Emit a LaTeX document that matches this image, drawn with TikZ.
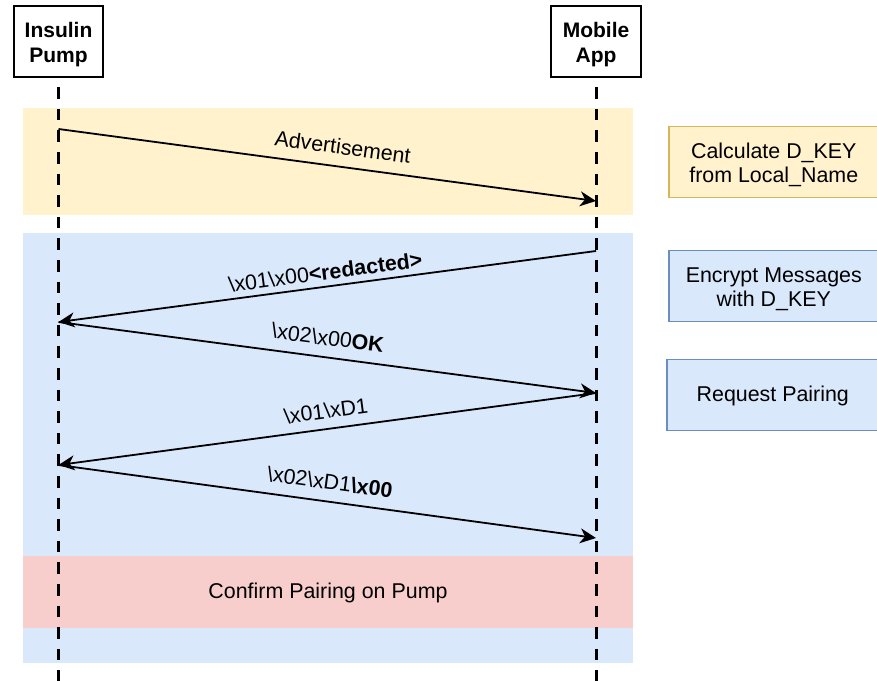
\documentclass[tikz,border=0pt]{standalone}
\usepackage{fontspec}
\setmainfont{Liberation Sans}
\usetikzlibrary{arrows.meta}
\definecolor{ylwfill}{HTML}{FFF2CC}
\definecolor{ylwline}{HTML}{D6B656}
\definecolor{bluefill}{HTML}{DAE8FC}
\definecolor{blueline}{HTML}{6C8EBF}
\definecolor{redfill}{HTML}{F8CECC}
\newcommand{\bs}{\textbackslash}
\newcommand{\topstrut}{\rule{0pt}{21.5pt}}
\begin{document}
\begin{tikzpicture}[x=1pt,y=-1pt,
  txt/.style={font=\fontsize{21.4}{24.5}\selectfont},
  actor/.style={draw=black, line width=1.8pt, fill=white, minimum width=89.5pt, minimum height=71.5pt,
    align=center, inner sep=0pt, font=\bfseries\fontsize{21}{25}\selectfont},
  band/.style={inner sep=0pt, minimum width=610pt, txt},
  sidebox/.style={line width=1.6pt, minimum width=210pt, minimum height=71pt, align=center, inner sep=0pt, txt, anchor=west},
  lifeline/.style={line width=3pt, dash pattern=on 11.5pt off 10.1pt, dash phase=12.5pt},
  msg/.style={line width=1.8pt, -{Stealth[length=16pt,width=15pt,inset=5pt]}},
  lbl/.style={txt, sloped, anchor=base, inner sep=0pt, yshift=#1},
  lbl/.default=9pt]
\useasboundingbox (0,0) rectangle (877,680);

% bands
\node[band, fill=ylwfill, minimum height=107pt] (yband) at (328,161.5) {};
\node[band, fill=bluefill, minimum height=430pt] (bband) at (328,448) {};
\node[band, fill=redfill, minimum height=72pt] (rband) at (328,592) {\rule{0pt}{18pt}Confirm Pairing on Pump};

% actors
\node[actor] (pump) at (58.5,41.5) {\topstrut Insulin\\Pump};
\node[actor] (app) at (596,41.5) {\topstrut Mobile\\App};

% lifeline ends
\coordinate (pumpend) at (58.5,690);
\coordinate (append) at (596,690);
\draw[lifeline] (pump.south) -- (pumpend);
\draw[lifeline] (app.south) -- (append);

% message points
\coordinate (p1) at (58.5,129);
\coordinate (m1) at (596,201);
\coordinate (m2) at (596,251);
\coordinate (p2) at (58.5,322);
\coordinate (m3) at (596,393);
\coordinate (p3) at (58.5,465);
\coordinate (m4) at (596,538);

\draw[msg] (p1) -- node[lbl=12.5pt, pos=0.524] {Advertisement} (m1);
\draw[msg] (m2) -- node[lbl=7pt, pos=0.5] {\bs x01\bs x00\textbf{<redacted>}} (p2);
\draw[msg] (p2) -- node[lbl=12pt, pos=0.496] {\bs x02\bs x00\textbf{OK}} (m3);
\draw[msg] (m3) -- node[lbl=10.5pt, pos=0.498] {\bs x01\bs xD1} (p3);
\draw[msg] (p3) -- node[lbl=12pt, pos=0.5] {\bs x02\bs xD1\textbf{\bs x00}} (m4);

% side notes
\node[sidebox, draw=ylwline, fill=ylwfill] (calc) at (668,162) {\topstrut Calculate D\_KEY\\from Local\_Name};
\node[sidebox, draw=blueline, fill=bluefill] (enc) at (668,286) {\topstrut Encrypt Messages\\with D\_KEY};
\node[sidebox, draw=blueline, fill=bluefill, minimum width=212pt] (req) at (666,395) {\rule{0pt}{18pt}Request Pairing};
\end{tikzpicture}
\end{document}
